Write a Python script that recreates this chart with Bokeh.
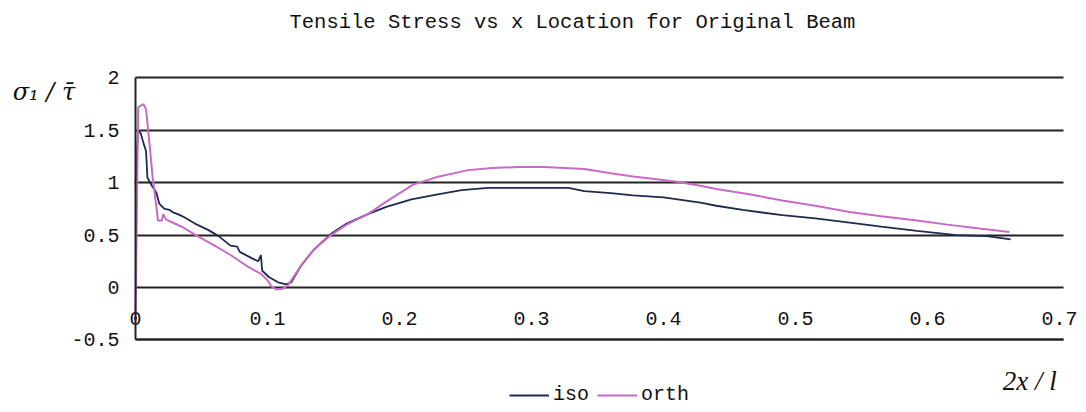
from bokeh.plotting import figure
from bokeh.models import FixedTicker, Label, Legend, LegendItem, Range1d, LinearAxis, Grid
from bokeh.embed import file_html
from bokeh.resources import INLINE

# Normalised tensile stress sigma_1 / tau-bar along the beam (x = 2x/l)
iso_x = [0.0, 0.002, 0.004, 0.006, 0.008, 0.009, 0.012, 0.016, 0.018, 0.022,
         0.026, 0.028, 0.032, 0.037, 0.045, 0.055, 0.063, 0.072, 0.077, 0.079,
         0.088, 0.093, 0.095, 0.096, 0.101, 0.108, 0.114, 0.118, 0.125, 0.135,
         0.149, 0.160, 0.176, 0.190, 0.209, 0.230, 0.247, 0.267, 0.300, 0.328,
         0.340, 0.360, 0.377, 0.400, 0.428, 0.440, 0.460, 0.490, 0.515, 0.541,
         0.565, 0.592, 0.622, 0.645, 0.663]
iso_y = [0.98, 1.50, 1.47, 1.38, 1.30, 1.05, 0.98, 0.90, 0.80, 0.75,
         0.74, 0.72, 0.70, 0.67, 0.61, 0.55, 0.49, 0.40, 0.39, 0.34,
         0.28, 0.25, 0.31, 0.16, 0.10, 0.05, 0.03, 0.05, 0.20, 0.36,
         0.52, 0.61, 0.70, 0.77, 0.84, 0.89, 0.93, 0.95, 0.95, 0.95,
         0.92, 0.90, 0.88, 0.86, 0.81, 0.78, 0.74, 0.69, 0.66, 0.62,
         0.58, 0.54, 0.50, 0.49, 0.46]

orth_x = [0.0, 0.002, 0.006, 0.008, 0.010, 0.013, 0.016, 0.017, 0.020, 0.021,
          0.023, 0.028, 0.035, 0.047, 0.060, 0.072, 0.085, 0.095, 0.100, 0.103,
          0.107, 0.112, 0.116, 0.126, 0.135, 0.148, 0.160, 0.176, 0.190, 0.210,
          0.230, 0.252, 0.270, 0.290, 0.310, 0.340, 0.360, 0.377, 0.390, 0.410,
          0.428, 0.440, 0.465, 0.490, 0.515, 0.541, 0.565, 0.592, 0.615, 0.641,
          0.662]
orth_y = [-0.33, 1.72, 1.75, 1.70, 1.45, 1.05, 0.75, 0.64, 0.64, 0.70,
          0.65, 0.62, 0.58, 0.49, 0.40, 0.31, 0.20, 0.13, 0.07, 0.01,
          -0.02, -0.01, 0.03, 0.22, 0.36, 0.50, 0.60, 0.70, 0.82, 0.98,
          1.06, 1.12, 1.14, 1.15, 1.15, 1.13, 1.09, 1.06, 1.04, 1.01,
          0.97, 0.94, 0.89, 0.83, 0.78, 0.72, 0.68, 0.64, 0.60, 0.56,
          0.53]

x_ticks = [0.0, 0.1, 0.2, 0.3, 0.4, 0.5, 0.6, 0.7]
x_tick_labels = ["0", "0.1", "0.2", "0.3", "0.4", "0.5", "0.6", "0.7"]
y_ticks = [-0.5, 0.0, 0.5, 1.0, 1.5, 2.0]
y_tick_labels = ["-0.5", "0", "0.5", "1", "1.5", "2"]

MONO = "Liberation Mono"
SERIF = "DejaVu Serif"
ISO_COLOR = "#1f2a4f"
ORTH_COLOR = "#c86bc8"
GRID_COLOR = "#222222"
TEXT_COLOR = "#111111"

# canvas geometry: the data frame fills the whole page, axes sit at fixed values
W, H = 1086, 412
X_ORIGIN_PX, X_SCALE = 135, 1320.0     # pixel of x = 0, pixels per unit
Y_ORIGIN_PX, Y_SCALE = 287, 104.8      # pixel (from top) of y = 0, pixels per unit
X_END = 0.703                          # right end of the plotting area
Y_MIN, Y_MAX = y_ticks[0], y_ticks[-1]

p = figure(width=W, height=H, output_backend="svg", toolbar_location=None,
           x_axis_location=None, y_axis_location=None,
           x_range=Range1d(-X_ORIGIN_PX / X_SCALE, (W - X_ORIGIN_PX) / X_SCALE),
           y_range=Range1d(-(H - Y_ORIGIN_PX) / Y_SCALE, Y_ORIGIN_PX / Y_SCALE),
           min_border=0, background_fill_color="white", border_fill_color="white")
p.outline_line_color = None
for g in p.grid:
    g.visible = False

xaxis = LinearAxis(ticker=FixedTicker(ticks=x_ticks), fixed_location=Y_MIN,
                   bounds=(0, X_END))
xaxis.major_label_overrides = dict(zip(x_ticks, x_tick_labels))
xaxis.major_label_standoff = -28
yaxis = LinearAxis(ticker=FixedTicker(ticks=y_ticks), fixed_location=0,
                   bounds=(Y_MIN, Y_MAX))
yaxis.major_label_overrides = dict(zip(y_ticks, y_tick_labels))
yaxis.major_label_standoff = 16
for ax in (xaxis, yaxis):
    ax.axis_line_color = GRID_COLOR
    ax.axis_line_width = 2
    ax.major_tick_line_color = None
    ax.minor_tick_line_color = None
    ax.major_tick_out = 0
    ax.major_tick_in = 0
    ax.major_label_text_font = MONO
    ax.major_label_text_font_size = "20px"
    ax.major_label_text_color = TEXT_COLOR
p.add_layout(xaxis, "below")
p.add_layout(yaxis, "left")

# horizontal grid lines only, spanning the plotting area
grid = Grid(dimension=1, ticker=FixedTicker(ticks=y_ticks), cross_bounds=(0, X_END),
            grid_line_color=GRID_COLOR, grid_line_width=2)
p.add_layout(grid)

r_iso = p.line(iso_x, iso_y, line_color=ISO_COLOR, line_width=1.8)
r_orth = p.line(orth_x, orth_y, line_color=ORTH_COLOR, line_width=2)

legend = Legend(items=[LegendItem(label="iso", renderers=[r_iso]),
                       LegendItem(label="orth", renderers=[r_orth])],
                orientation="horizontal", location=(509, 6),
                glyph_width=40, glyph_height=20, label_height=20,
                label_standoff=4, spacing=8, padding=0, margin=0,
                border_line_color=None, background_fill_alpha=0,
                label_text_font=MONO, label_text_font_size="20px",
                label_text_color=TEXT_COLOR)
p.add_layout(legend, "center")

p.add_layout(Label(x=0.331, y=2.53, text="Tensile Stress vs x Location for Original Beam",
                   text_font=MONO, text_font_size="20.5px", text_align="center",
                   text_baseline="middle", text_color=TEXT_COLOR))
p.add_layout(Label(x=-0.093, y=1.87, text="σ\u2081 / τ\u0304",
                   text_font=SERIF, text_font_style="italic", text_font_size="24px",
                   text_align="left", text_baseline="middle", text_color=TEXT_COLOR))
p.add_layout(Label(x=0.698, y=-0.89, text="2x / l",
                   text_font="Liberation Serif", text_font_style="italic",
                   text_font_size="27px", text_align="right",
                   text_baseline="middle", text_color=TEXT_COLOR))

open("out.html", "w").write(file_html(p, INLINE))
